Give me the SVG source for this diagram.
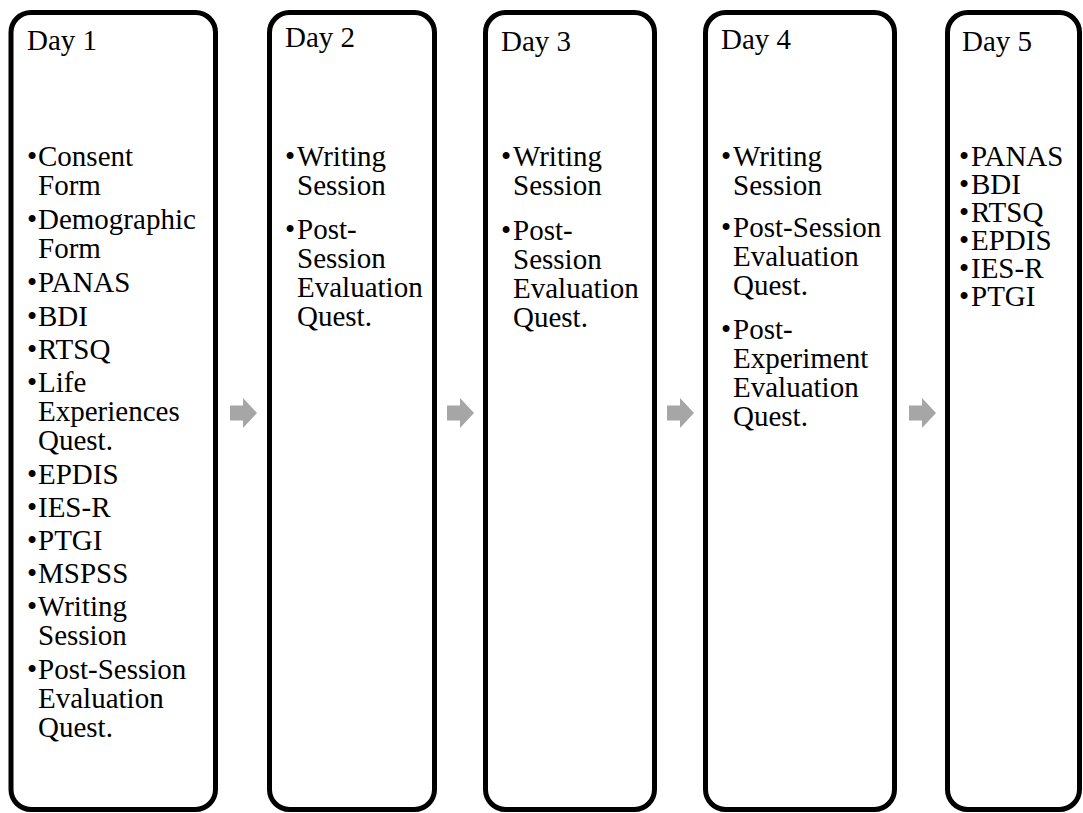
<svg xmlns="http://www.w3.org/2000/svg" width="1083" height="813" viewBox="0 0 1083 813">
<style>
.box{fill:#fff;stroke:#000;stroke-width:5}
.t{font-family:"Liberation Serif","Times New Roman",serif;font-size:29px;fill:#000}
.arr{fill:#a6a6a6}
</style>
<rect width="1083" height="813" fill="#fff"/>
<g id="connectors">
<path class="arr" d="M230,405.5 h13 v-7.5 l14,15 l-14,15 v-7.5 h-13 z"/>
<path class="arr" d="M447,405.5 h13 v-7.5 l14,15 l-14,15 v-7.5 h-13 z"/>
<path class="arr" d="M667,405.5 h13 v-7.5 l14,15 l-14,15 v-7.5 h-13 z"/>
<path class="arr" d="M909,405.5 h13 v-7.5 l14,15 l-14,15 v-7.5 h-13 z"/>
</g>
<g id="day1">
<rect class="box" x="11" y="12.5" width="204.5" height="797" rx="20"/>
<text class="t" x="27" y="50">Day 1</text>
<text class="t">
<tspan x="27" y="166">•</tspan><tspan x="38" y="166">Consent</tspan>
<tspan x="38" y="195">Form</tspan>
<tspan x="27" y="228.5">•</tspan><tspan x="38" y="228.5">Demographic</tspan>
<tspan x="38" y="257.5">Form</tspan>
<tspan x="27" y="292">•</tspan><tspan x="38" y="292">PANAS</tspan>
<tspan x="27" y="325.5">•</tspan><tspan x="38" y="325.5">BDI</tspan>
<tspan x="27" y="358.5">•</tspan><tspan x="38" y="358.5">RTSQ</tspan>
<tspan x="27" y="391.5">•</tspan><tspan x="38" y="391.5">Life</tspan>
<tspan x="38" y="420.5">Experiences</tspan>
<tspan x="38" y="449.5">Quest.</tspan>
<tspan x="27" y="483.5">•</tspan><tspan x="38" y="483.5">EPDIS</tspan>
<tspan x="27" y="516.5">•</tspan><tspan x="38" y="516.5">IES-R</tspan>
<tspan x="27" y="549.5">•</tspan><tspan x="38" y="549.5">PTGI</tspan>
<tspan x="27" y="582.5">•</tspan><tspan x="38" y="582.5">MSPSS</tspan>
<tspan x="27" y="616">•</tspan><tspan x="38" y="616">Writing</tspan>
<tspan x="38" y="645">Session</tspan>
<tspan x="27" y="678.5">•</tspan><tspan x="38" y="678.5">Post-Session</tspan>
<tspan x="38" y="707.5">Evaluation</tspan>
<tspan x="38" y="736.5">Quest.</tspan>
</text>
</g>
<g id="day2">
<rect class="box" x="269.5" y="12.5" width="165" height="797" rx="20"/>
<text class="t" x="285" y="47">Day 2</text>
<text class="t">
<tspan x="285" y="166">•</tspan><tspan x="297" y="166">Writing</tspan>
<tspan x="297" y="195">Session</tspan>
<tspan x="285" y="239">•</tspan><tspan x="297" y="239">Post-</tspan>
<tspan x="297" y="268">Session</tspan>
<tspan x="297" y="297">Evaluation</tspan>
<tspan x="297" y="326">Quest.</tspan>
</text>
</g>
<g id="day3">
<rect class="box" x="485.5" y="12.5" width="169" height="797" rx="20"/>
<text class="t" x="501" y="51">Day 3</text>
<text class="t">
<tspan x="501" y="166">•</tspan><tspan x="513" y="166">Writing</tspan>
<tspan x="513" y="195">Session</tspan>
<tspan x="501" y="240">•</tspan><tspan x="513" y="240">Post-</tspan>
<tspan x="513" y="269">Session</tspan>
<tspan x="513" y="298">Evaluation</tspan>
<tspan x="513" y="327">Quest.</tspan>
</text>
</g>
<g id="day4">
<rect class="box" x="705.5" y="12.5" width="189" height="797" rx="20"/>
<text class="t" x="721" y="49">Day 4</text>
<text class="t">
<tspan x="721" y="166">•</tspan><tspan x="733" y="166">Writing</tspan>
<tspan x="733" y="195">Session</tspan>
<tspan x="721" y="237">•</tspan><tspan x="733" y="237">Post-Session</tspan>
<tspan x="733" y="266">Evaluation</tspan>
<tspan x="733" y="295">Quest.</tspan>
<tspan x="721" y="339">•</tspan><tspan x="733" y="339">Post-</tspan>
<tspan x="733" y="368">Experiment</tspan>
<tspan x="733" y="397">Evaluation</tspan>
<tspan x="733" y="426">Quest.</tspan>
</text>
</g>
<g id="day5">
<rect class="box" x="947.5" y="12.5" width="132" height="797" rx="20"/>
<text class="t" x="962" y="51">Day 5</text>
<text class="t">
<tspan x="959" y="166">•</tspan><tspan x="971" y="166">PANAS</tspan>
<tspan x="959" y="194">•</tspan><tspan x="971" y="194">BDI</tspan>
<tspan x="959" y="222">•</tspan><tspan x="971" y="222">RTSQ</tspan>
<tspan x="959" y="250">•</tspan><tspan x="971" y="250">EPDIS</tspan>
<tspan x="959" y="278">•</tspan><tspan x="971" y="278">IES-R</tspan>
<tspan x="959" y="306">•</tspan><tspan x="971" y="306">PTGI</tspan>
</text>
</g>
</svg>
